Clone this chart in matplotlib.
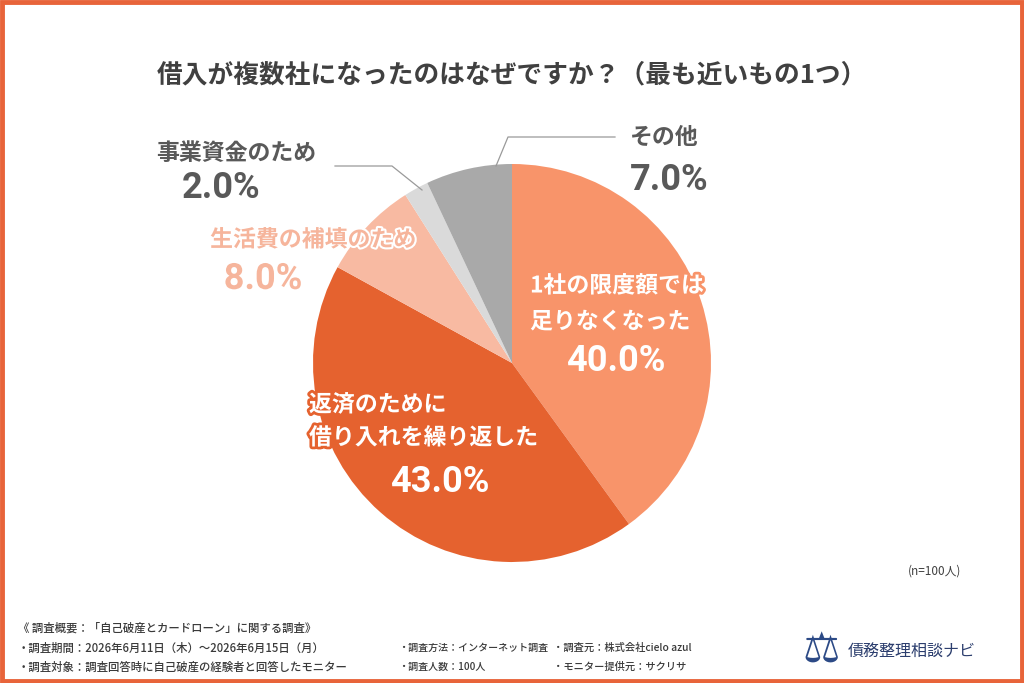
import matplotlib.pyplot as plt
import matplotlib.patheffects as pe
from matplotlib.patches import Rectangle

plt.rcParams['font.family'] = ['Noto Sans CJK JP', 'DejaVu Sans']

# Data
title = "借入が複数社になったのはなぜですか？（最も近いもの1つ）"
labels = ["1社の限度額では\n足りなくなった", "返済のために\n借り入れを繰り返した",
          "生活費の補填のため", "事業資金のため", "その他"]
values = [40.0, 43.0, 8.0, 2.0, 7.0]
colors = ["#F8946A", "#E5622F", "#F8BAA2", "#DADADA", "#A9A9A9"]

footer_rows = [
    ["《 調査概要：「自己破産とカードローン」に関する調査》"],
    ["・調査期間：2026年6月11日（木）～2026年6月15日（月）",
     "・調査方法：インターネット調査", "・調査元：株式会社cielo azul"],
    ["・調査対象：調査回答時に自己破産の経験者と回答したモニター",
     "・調査人数：100人", "・モニター提供元：サクリサ"],
]
n_note = "(n=100人)"
brand = "債務整理相談ナビ"

W, H = 1024, 683
fig = plt.figure(figsize=(W / 100, H / 100), dpi=100)
fig.patch.set_facecolor("white")

# full-figure overlay in pixel coordinates
ov = fig.add_axes([0, 0, 1, 1])
ov.set_xlim(0, W)
ov.set_ylim(H, 0)
ov.axis("off")

# pie
cx, cy, r = 512, 363, 199
pax = fig.add_axes([(cx - r) / W, (H - cy - r) / H, 2 * r / W, 2 * r / H])
pax.pie(values, colors=colors, startangle=90, counterclock=False,
        wedgeprops=dict(linewidth=0))
pax.set_xlim(-1, 1)
pax.set_ylim(-1, 1)
pax.set_aspect("equal")
pax.set_zorder(1)
ov.set_zorder(2)

# border
ov.add_patch(Rectangle((2, 2), W - 4, H - 4, fill=False, edgecolor="#E8643A", linewidth=3.5))

ov.text(W / 2, 75, title, ha="center", va="center", fontsize=18.5,
        fontweight="bold", color="#404040")

num_font = dict(family=["Roboto", "DejaVu Sans"], fontweight="bold")

# labels inside pie (outlined in the slice colour)
s0 = [pe.withStroke(linewidth=4, foreground=colors[0])]
s1 = [pe.withStroke(linewidth=4, foreground=colors[1])]
line0, line1 = labels[0].split("\n")
ov.text(530, 286, line0, ha="left", va="center", fontsize=16.5,
        fontweight="bold", color="white", path_effects=s0)
ov.text(530, 322, line1, ha="left", va="center", fontsize=16.5,
        fontweight="bold", color="white", path_effects=s0)
ov.text(616, 361, f"{values[0]:.1f}%", ha="center", va="center", fontsize=26,
        color="white", **num_font)

line0, line1 = labels[1].split("\n")
ov.text(309, 405, line0, ha="left", va="center", fontsize=16.5,
        fontweight="bold", color="white", path_effects=s1)
ov.text(309, 438, line1, ha="left", va="center", fontsize=16.5,
        fontweight="bold", color="white", path_effects=s1)
ov.text(440, 482, f"{values[1]:.1f}%", ha="center", va="center", fontsize=26,
        color="white", **num_font)

# outside labels
stroke = [pe.withStroke(linewidth=3, foreground="white")]
ov.text(313, 240, labels[2], ha="center", va="center", fontsize=16.5,
        fontweight="bold", color="#F6B59C", path_effects=stroke)
ov.text(263, 279, f"{values[2]:.1f}%", ha="center", va="center", fontsize=26,
        color="#F6B59C", path_effects=stroke, **num_font)

ov.text(236, 153, labels[3], ha="center", va="center", fontsize=16.5,
        fontweight="bold", color="#595959")
ov.text(221, 188, f"{values[3]:.1f}%", ha="center", va="center", fontsize=26,
        color="#595959", **num_font)

ov.text(664, 137, labels[4], ha="center", va="center", fontsize=16.5,
        fontweight="bold", color="#595959")
ov.text(669, 180, f"{values[4]:.1f}%", ha="center", va="center", fontsize=26,
        color="#595959", **num_font)

# leader lines
ov.plot([335, 392, 422], [166, 166, 190], color="#9A9A9A", linewidth=0.9)
ov.plot([615, 508, 496], [137, 137, 166], color="#9A9A9A", linewidth=0.9)

ov.text(935, 571, n_note, ha="center", va="center", fontsize=8.5, color="#404040")

# footer
col_x = [18, 398, 553]
col_fs = [8.2, 7.2, 7.4]
row_y = [628, 648, 667]
for ry, row in zip(row_y, footer_rows):
    for cx_, fs, txt in zip(col_x, col_fs, row):
        ov.text(cx_, ry, txt, ha="left", va="center", fontsize=fs,
                color="#3A3A3A", fontweight="medium")

ov.text(821, 651, "⚖", ha="center", va="center", fontsize=30,
        color="#2C4A86", family=["DejaVu Sans"])
ov.text(848, 652, brand, ha="left", va="center", fontsize=11.5, color="#2C3E6E")

fig.savefig("out.png", dpi=100, facecolor="white")
